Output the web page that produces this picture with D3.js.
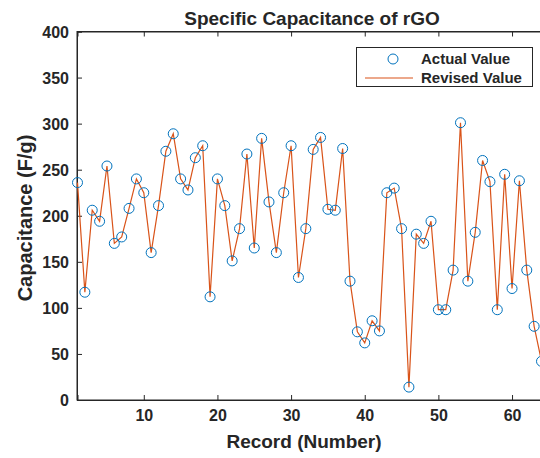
<!DOCTYPE html>
<html><head><meta charset="utf-8">
<script src="https://cdn.jsdelivr.net/npm/d3@7"></script>
<style>
html,body{margin:0;padding:0;background:#fff;}
svg{display:block;}
text{font-family:"Liberation Sans",Arial,sans-serif;font-weight:bold;fill:#262626;}
</style></head>
<body>
<script>
const records = d3.range(1, 65);
const actualValues = [236,117,206,194,254,170,177,208,240,225,160,211,270,289,240,228,263,276,112,240,
  211,151,186,267,165,284,215,160,225,276,133,186,272,285,207,206,273,129,74,62,
  86,75,225,230,186,14,180,170,194,98,98,141,301,129,182,260,237,98,245,121,
  238,141,80,42];
const revisedValues = actualValues.slice();
const xTicks = [10,20,30,40,50,60];
const yTicks = [0,50,100,150,200,250,300,350,400];
const titleText = "Specific Capacitance of rGO";
const xLabel = "Record (Number)";
const yLabel = "Capacitance (F/g)";
const legendLabels = ["Actual Value","Revised Value"];

const W = 540, H = 458;
const m = {left:77, top:31.5, right:542, bottom:400};
const svg = d3.select("body").append("svg").attr("width",W).attr("height",H);

const x = d3.scaleLinear().domain([1,64]).range([77.5, 541.5]);
const y = d3.scaleLinear().domain([0,400]).range([m.bottom, m.top]);

const axisColor = "#262626";
const font = '"Liberation Sans",Arial,sans-serif';
svg.append("rect").attr("x",m.left).attr("y",m.top).attr("width",m.right-m.left).attr("height",m.bottom-m.top)
  .attr("fill","#fff").attr("stroke",axisColor).attr("stroke-width",1);

const xAxis = svg.append("g").attr("transform",`translate(0,${m.bottom})`)
  .call(d3.axisBottom(x).tickValues(xTicks).tickSize(-5).tickPadding(10).tickFormat(d3.format("d")));
const xAxisTop = svg.append("g").attr("transform",`translate(0,${m.top})`)
  .call(d3.axisTop(x).tickValues(xTicks).tickSize(-5).tickFormat(""));
const yAxis = svg.append("g").attr("transform",`translate(${m.left},0)`)
  .call(d3.axisLeft(y).tickValues(yTicks).tickSize(-5).tickPadding(8).tickFormat(d3.format("d")));
[xAxis,xAxisTop,yAxis].forEach(g=>{
  g.select(".domain").attr("stroke",axisColor);
  g.selectAll(".tick line").attr("stroke",axisColor);
  g.selectAll(".tick text").attr("font-size",16).attr("font-family",font).attr("font-weight","bold").attr("fill",axisColor);
});
yAxis.selectAll(".tick text").attr("dy","0.35em");

const line = d3.line().x((d,i)=>x(records[i])).y(d=>y(d));
svg.append("path").datum(revisedValues).attr("d",line).attr("fill","none")
  .attr("stroke","#D95319").attr("stroke-width",1.2);

svg.append("g").selectAll("circle").data(actualValues).join("circle")
  .attr("cx",(d,i)=>x(records[i])).attr("cy",d=>y(d)).attr("r",5)
  .attr("fill","none").attr("stroke","#0072BD").attr("stroke-width",1);

svg.append("text").attr("x",312).attr("y",25).attr("text-anchor","middle").attr("font-size",19).text(titleText);
svg.append("text").attr("x",304).attr("y",448).attr("text-anchor","middle").attr("font-size",19).text(xLabel);
svg.append("text").attr("transform","translate(32,218) rotate(-90)").attr("text-anchor","middle").attr("font-size",20).text(yLabel);

const lg = svg.append("g");
lg.append("rect").attr("x",356.5).attr("y",47.5).attr("width",176).attr("height",39)
  .attr("fill","#fff").attr("stroke",axisColor).attr("stroke-width",1);
lg.append("circle").attr("cx",393).attr("cy",59).attr("r",5).attr("fill","none").attr("stroke","#0072BD");
lg.append("line").attr("x1",365).attr("x2",413).attr("y1",78).attr("y2",78).attr("stroke","#D95319").attr("stroke-width",1.2);
lg.append("text").attr("x",421).attr("y",59).attr("dy","0.35em").attr("font-size",15).text(legendLabels[0]);
lg.append("text").attr("x",421).attr("y",78).attr("dy","0.35em").attr("font-size",15).text(legendLabels[1]);
</script>
</body></html>
